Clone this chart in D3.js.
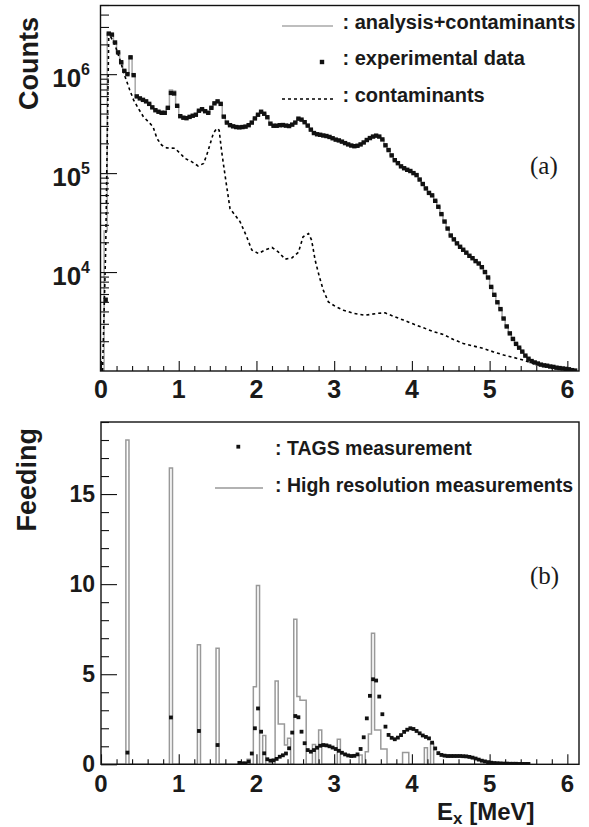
<!DOCTYPE html>
<html><head><meta charset="utf-8">
<script src="https://cdn.jsdelivr.net/npm/d3@7"></script>
<style>body{margin:0;background:#fff}svg{display:block}</style>
</head><body>
<svg id="c" width="589" height="827"></svg>
<script>
// ---------- DATA ----------
const binWidth = 0.04;               // MeV
const expStart = 0.06;               // centre of first experimental bin
const expCounts = [
 5.25e3,2.57e6,2.51e6,2.09e6,1.66e6,1.32e6,1.08e6,1.00e6,1.48e6,9.77e5,
 5.96e5,5.69e5,5.50e5,5.31e5,5.01e5,4.62e5,4.32e5,4.17e5,4.07e5,4.07e5,
 4.57e5,6.46e5,6.38e5,4.79e5,3.76e5,3.63e5,3.59e5,3.70e5,3.80e5,3.89e5,
 4.27e5,4.42e5,4.22e5,4.07e5,4.57e5,5.07e5,5.31e5,5.01e5,3.72e5,3.24e5,
 3.05e5,2.97e5,2.92e5,2.90e5,2.92e5,2.95e5,3.05e5,3.24e5,3.57e5,3.89e5,
 4.17e5,3.98e5,3.67e5,3.16e5,3.01e5,3.01e5,3.05e5,3.06e5,3.02e5,2.99e5,
 3.09e5,3.24e5,3.55e5,3.47e5,3.27e5,3.02e5,2.75e5,2.54e5,2.47e5,2.44e5,
 2.40e5,2.37e5,2.32e5,2.25e5,2.18e5,2.14e5,2.08e5,2.01e5,1.95e5,1.90e5,
 1.87e5,1.89e5,1.95e5,2.04e5,2.16e5,2.26e5,2.34e5,2.39e5,2.34e5,2.19e5,
 1.91e5,1.71e5,1.51e5,1.35e5,1.26e5,1.17e5,1.12e5,1.08e5,1.05e5,1.00e5,
 9.55e4,8.61e4,7.76e4,7.00e4,6.31e4,5.96e4,5.25e4,4.57e4,3.85e4,3.24e4,
 2.75e4,2.34e4,2.14e4,1.95e4,1.80e4,1.68e4,1.57e4,1.46e4,1.38e4,1.29e4,
 1.22e4,1.12e4,1.00e4,8.81e3,7.08e3,5.89e3,4.95e3,4.22e3,3.39e3,2.82e3,
 2.40e3,2.11e3,1.88e3,1.72e3,1.57e3,1.43e3,1.33e3,1.26e3,1.22e3,1.19e3,
 1.16e3,1.14e3,1.13e3,1.11e3,1.10e3,1.08e3,1.07e3,1.06e3,1.05e3,1.04e3,
 1.02e3,1.01e3];
const anaStart = 0.02;               // centre of first analysis bin
const anaCounts = [
 1.00e3,2.60e4,2.57e6,2.51e6,2.09e6,1.66e6,1.32e6,1.08e6,1.00e6,1.50e6,9.80e5,
 5.96e5,5.69e5,5.50e5,5.31e5,5.01e5,4.62e5,4.32e5,4.17e5,4.07e5,4.07e5,
 4.60e5,6.92e5,6.76e5,4.79e5,3.76e5,3.63e5,3.59e5,3.70e5,3.80e5,3.89e5,
 4.27e5,4.42e5,4.22e5,4.07e5,4.57e5,5.07e5,5.31e5,5.01e5,3.72e5,3.24e5,
 3.05e5,2.97e5,2.92e5,2.90e5,2.92e5,2.95e5,3.05e5,3.24e5,3.57e5,3.89e5,
 4.17e5,3.98e5,3.67e5,3.16e5,3.01e5,3.01e5,3.05e5,3.06e5,3.02e5,2.99e5,
 3.09e5,3.24e5,3.55e5,3.47e5,3.27e5,3.02e5,2.75e5,2.54e5,2.47e5,2.44e5,
 2.40e5,2.37e5,2.32e5,2.25e5,2.18e5,2.14e5,2.08e5,2.01e5,1.95e5,1.90e5,
 1.87e5,1.89e5,1.95e5,2.04e5,2.16e5,2.26e5,2.34e5,2.39e5,2.34e5,2.19e5,
 1.91e5,1.71e5,1.51e5,1.35e5,1.26e5,1.17e5,1.12e5,1.08e5,1.05e5,1.00e5,
 9.55e4,8.61e4,7.76e4,7.00e4,6.31e4,5.96e4,5.25e4,4.57e4,3.85e4,3.24e4,
 2.75e4,2.34e4,2.14e4,1.95e4,1.80e4,1.68e4,1.57e4,1.46e4,1.38e4,1.29e4,
 1.22e4,1.12e4,1.00e4,8.81e3,7.08e3,5.89e3,4.95e3,4.22e3,3.39e3,2.82e3,
 2.40e3,2.11e3,1.88e3,1.72e3,1.57e3,1.43e3,1.33e3,1.26e3,1.22e3,1.19e3,
 1.16e3,1.14e3,1.13e3,1.11e3,1.10e3,1.08e3,1.07e3,1.06e3,1.05e3,1.04e3,
 1.02e3,1.01e3];
const contE = [0.02,0.06,0.10,0.18,0.245,0.31,0.37,0.42,0.48,0.545,0.63,0.67,0.72,0.78,0.845,0.95,
 1.02,1.08,1.17,1.25,1.32,1.36,1.40,1.445,1.49,1.52,1.55,1.58,1.62,1.66,1.79,1.875,1.94,
 2.025,2.11,2.20,2.28,2.37,2.455,2.54,2.60,2.67,2.71,2.755,2.81,2.86,2.925,3.01,3.12,3.25,
 3.40,3.55,3.655,3.76,3.89,4.02,4.15,4.28,4.405,4.535,4.66,4.79,4.92,5.05,5.18,5.31,5.435,
 5.565,5.69,5.82,5.95,6.08];
const contCounts = [1.0e3,1.66e4,2.6e6,1.97e6,1.39e6,9.42e5,6.92e5,5.47e5,4.51e5,3.72e5,3.18e5,2.94e5,2.24e5,1.92e5,1.80e5,1.78e5,
 1.58e5,1.41e5,1.30e5,1.18e5,1.25e5,1.52e5,1.92e5,2.52e5,2.83e5,2.72e5,1.71e5,1.16e5,7.08e4,4.37e4,3.22e4,2.27e4,1.67e4,
 1.54e4,1.67e4,1.77e4,1.60e4,1.35e4,1.39e4,1.58e4,2.27e4,2.45e4,2.10e4,1.32e4,8.95e3,6.56e3,5.00e3,4.52e3,4.12e3,3.82e3,
 3.66e3,3.82e3,3.87e3,3.58e3,3.27e3,2.98e3,2.73e3,2.49e3,2.34e3,2.08e3,1.90e3,1.79e3,1.69e3,1.56e3,1.45e3,1.37e3,1.29e3,
 1.19e3,1.12e3,1.08e3,1.04e3,1.00e3];

const tagsE = [0.34,0.90,1.26,1.50,1.78,1.82,1.86,1.90,1.94,1.98,2.02,2.06,2.10,2.14,2.18,2.22,2.26,2.30,2.34,2.38,
 2.42,2.46,2.50,2.54,2.58,2.62,2.66,2.70,2.74,2.78,2.82,2.86,2.90,2.94,2.98,3.02,3.06,3.10,3.14,3.18,3.22,3.26,
 3.30,3.34,3.38,3.42,3.46,3.50,3.54,3.58,3.62,3.66,3.70,3.74,3.78,3.82,3.86,3.90,3.94,3.98,4.02,4.06,4.10,4.14,
 4.18,4.22,4.26,4.30,4.34,4.38,4.42,4.46,4.50,4.54,4.58,4.62,4.66,4.70,4.74,4.78,4.82,4.86,4.90,4.94,4.98,5.02,
 5.06,5.10,5.14,5.18,5.22,5.26,5.30,5.34,5.38,5.42,5.46,5.50];
const tagsFeeding = [0.65,2.6,1.85,1.07,0.08,0.05,0.05,0.15,0.6,2.0,3.1,1.81,0.61,0.28,0.2,0.22,0.3,0.42,0.5,0.6,
 0.89,1.76,2.68,2.61,1.81,1.17,0.79,0.70,0.79,0.92,1.03,1.07,1.05,1.0,0.93,0.85,0.75,0.64,0.55,0.49,0.46,0.47,
 0.55,0.85,1.5,2.55,3.8,4.72,4.65,3.76,2.78,2.09,1.63,1.47,1.39,1.48,1.62,1.8,1.92,2.0,1.96,1.85,1.72,1.6,
 1.52,1.44,1.2,0.88,0.62,0.52,0.48,0.46,0.46,0.46,0.46,0.46,0.45,0.44,0.41,0.37,0.32,0.26,0.2,0.16,0.12,0.09,
 0.07,0.06,0.05,0.04,0.04,0.03,0.03,0.03,0.02,0.02,0.02,0.02];

const hrLow = [0.32,0.88,1.24,1.48,1.80,1.84,1.88,1.96,2.00,2.08,2.24,2.28,2.32,2.36,2.40,2.48,2.52,2.56,2.60,
 2.72,2.80,3.04,3.32,3.40,3.44,3.48,3.52,3.56,3.60,3.64,3.88,3.92,4.16,4.24];
const hrFeeding = [18.0,16.45,6.63,6.44,0.1,0.12,0.28,4.31,9.92,1.6,4.63,2.24,2.24,1.07,1.45,8.05,3.76,3.55,3.55,
 1.1,1.9,1.39,0.52,0.7,1.68,7.28,1.9,1.9,0.85,0.85,0.65,0.65,0.92,1.17];
const hrEnd = 5.52;

const xTicks = [0,1,2,3,4,5,6];
const countTicks = [1e4,1e5,1e6];
const countExp = ["4","5","6"];
const feedTicks = [0,5,10,15];

// ---------- LAYOUT ----------
const svg = d3.select("#c");
const FONT = "'Liberation Sans', Arial, Helvetica, sans-serif";
const TXT = "#1a1a1a";
const x = d3.scaleLinear().domain([0,6.15]).range([101,579]);
const yT = d3.scaleLog().domain([1000,5e6]).range([371,5]);
const yB = d3.scaleLinear().domain([0,19]).range([764.3,422]);
const GRAY = "#a8a8a8";

const defs = svg.append("defs");
defs.append("clipPath").attr("id","clipT").append("rect").attr("x",101).attr("y",5).attr("width",478).attr("height",366);
defs.append("clipPath").attr("id","clipB").append("rect").attr("x",101).attr("y",420).attr("width",478).attr("height",345);

// ---------- TOP PANEL ----------
const gT = svg.append("g");
const anaPts = anaCounts.map((v,i)=>[anaStart + i*binWidth - binWidth/2, v]);
anaPts.push([anaStart + anaCounts.length*binWidth - binWidth/2, anaCounts[anaCounts.length-1]]);
gT.append("path").attr("clip-path","url(#clipT)")
  .attr("d", d3.line().x(d=>x(d[0])).y(d=>yT(d[1])).curve(d3.curveStepAfter)(anaPts))
  .attr("fill","none").attr("stroke",GRAY).attr("stroke-width",1.5);
gT.append("path").attr("clip-path","url(#clipT)")
  .attr("d", d3.line().x((d,i)=>x(contE[i])).y(d=>yT(d))(contCounts))
  .attr("fill","none").attr("stroke","#000").attr("stroke-width",1.6).attr("stroke-dasharray","3,3");
gT.append("g").attr("clip-path","url(#clipT)").selectAll("rect").data(expCounts).join("rect")
  .attr("x",(d,i)=>x(expStart+i*binWidth)-2.2).attr("y",d=>yT(d)-2.2)
  .attr("width",4.4).attr("height",4.4).attr("fill","#111");

gT.append("rect").attr("x",100.5).attr("y",5.5).attr("width",478.5).attr("height",365.5)
  .attr("fill","none").attr("stroke","#111").attr("stroke-width",1.4);

const minorX = d3.range(0,6.15,0.2).filter(v=>Math.abs(v-Math.round(v))>1e-6);
gT.append("g").attr("transform","translate(0,371)")
  .call(d3.axisBottom(x).tickValues(minorX).tickSize(-5).tickFormat(""))
  .call(g=>g.select(".domain").remove());
gT.append("g").attr("transform","translate(0,371)")
  .call(d3.axisBottom(x).tickValues(xTicks).tickSize(-10).tickFormat(""))
  .call(g=>g.select(".domain").remove());
const minorY = [];
[1e3,1e4,1e5,1e6].forEach(dec=>{ for(let m=2;m<=9;m++){ const v=dec*m; if(v<=5e6) minorY.push(v);} });
gT.append("g").attr("transform","translate(101,0)")
  .call(d3.axisLeft(yT).tickValues(minorY).tickSize(-8).tickFormat(""))
  .call(g=>g.select(".domain").remove());
gT.append("g").attr("transform","translate(101,0)")
  .call(d3.axisLeft(yT).tickValues(countTicks).tickSize(-16).tickFormat(""))
  .call(g=>g.select(".domain").remove());

gT.selectAll("text.xl").data(xTicks).join("text").attr("class","xl")
  .attr("x",d=>x(d)).attr("y",398).attr("text-anchor","middle")
  .attr("font-family",FONT).attr("font-weight","bold").attr("font-size",25).attr("fill",TXT)
  .text(d=>d);
countTicks.forEach((v,i)=>{
  const t = gT.append("text").attr("x",90).attr("y",yT(v)+13).attr("text-anchor","end")
    .attr("font-family",FONT).attr("font-weight","bold").attr("fill",TXT);
  t.append("tspan").attr("font-size",26).text("10");
  t.append("tspan").attr("font-size",16).attr("dy",-12).text(countExp[i]);
});
gT.append("text").attr("transform","translate(38,17) rotate(-90)").attr("text-anchor","end")
  .attr("font-family",FONT).attr("font-weight","bold").attr("font-size",27).attr("fill",TXT).text("Counts");

gT.append("line").attr("x1",282).attr("x2",333).attr("y1",26).attr("y2",26).attr("stroke",GRAY).attr("stroke-width",1.5);
gT.append("rect").attr("x",319.8).attr("y",59.8).attr("width",4.4).attr("height",4.4).attr("fill","#111");
gT.append("line").attr("x1",282).attr("x2",333).attr("y1",99).attr("y2",99).attr("stroke","#000").attr("stroke-width",1.6).attr("stroke-dasharray","3,3");
[[": analysis+contaminants",28.5],[": experimental data",65],[": contaminants",102]].forEach(([s,yy])=>{
  gT.append("text").attr("x",342.5).attr("y",yy).attr("font-family",FONT).attr("font-weight","bold")
    .attr("font-size",20).attr("fill",TXT).text(s);
});
gT.append("text").attr("x",530).attr("y",174).attr("font-family","'Liberation Serif', 'Times New Roman', serif")
  .attr("font-size",25).attr("fill",TXT).text("(a)");

// ---------- BOTTOM PANEL ----------
const gB = svg.append("g");
const nHr = Math.round(hrEnd/binWidth);
const hrGrid = new Array(nHr).fill(0);
hrLow.forEach((lo,i)=>{ hrGrid[Math.round(lo/binWidth)] = hrFeeding[i]; });
const hrPts = hrGrid.map((v,i)=>[i*binWidth, v]);
hrPts.push([nHr*binWidth, 0]);
gB.append("path").attr("clip-path","url(#clipB)")
  .attr("d", d3.line().x(d=>x(d[0])).y(d=>yB(d[1])).curve(d3.curveStepAfter)(hrPts))
  .attr("fill","none").attr("stroke","#999").attr("stroke-width",1.5);
gB.append("g").attr("clip-path","url(#clipB)").selectAll("rect").data(tagsFeeding).join("rect")
  .attr("x",(d,i)=>x(tagsE[i])-1.9).attr("y",d=>yB(d)-1.9)
  .attr("width",3.8).attr("height",3.8).attr("fill","#111");

gB.append("rect").attr("x",101).attr("y",422).attr("width",478).attr("height",342.3)
  .attr("fill","none").attr("stroke","#111").attr("stroke-width",1.4);

gB.append("g").attr("transform","translate(0,764.3)")
  .call(d3.axisBottom(x).tickValues(minorX).tickSize(-5).tickFormat(""))
  .call(g=>g.select(".domain").remove());
gB.append("g").attr("transform","translate(0,764.3)")
  .call(d3.axisBottom(x).tickValues(xTicks).tickSize(-10).tickFormat(""))
  .call(g=>g.select(".domain").remove());
const minorF = d3.range(0,19.01,1).filter(v=>v%5!==0);
gB.append("g").attr("transform","translate(101,0)")
  .call(d3.axisLeft(yB).tickValues(minorF).tickSize(-8).tickFormat(""))
  .call(g=>g.select(".domain").remove());
gB.append("g").attr("transform","translate(101,0)")
  .call(d3.axisLeft(yB).tickValues(feedTicks).tickSize(-16).tickFormat(""))
  .call(g=>g.select(".domain").remove());
svg.selectAll(".tick line").attr("stroke","#111").attr("stroke-width",1.1);

gB.selectAll("text.xl").data(xTicks).join("text").attr("class","xl")
  .attr("x",d=>x(d)).attr("y",792).attr("text-anchor","middle")
  .attr("font-family",FONT).attr("font-weight","bold").attr("font-size",24).attr("fill",TXT)
  .text(d=>d);
gB.selectAll("text.yl").data(feedTicks).join("text").attr("class","yl")
  .attr("x",95).attr("y",d=>yB(d)+8).attr("text-anchor","end")
  .attr("font-family",FONT).attr("font-weight","bold").attr("font-size",23).attr("fill",TXT)
  .text(d=>d);
gB.append("text").attr("transform","translate(36,428) rotate(-90)").attr("text-anchor","end")
  .attr("font-family",FONT).attr("font-weight","bold").attr("font-size",27).attr("fill",TXT).text("Feeding");
const xt = gB.append("text").attr("x",437).attr("y",820).attr("font-family",FONT).attr("font-weight","bold").attr("fill",TXT);
xt.append("tspan").attr("font-size",24).text("E");
xt.append("tspan").attr("font-size",17).attr("dy",4).text("x");
xt.append("tspan").attr("font-size",24).attr("dy",-4).text(" [MeV]");

gB.append("rect").attr("x",236.4).attr("y",444.8).attr("width",3.8).attr("height",3.8).attr("fill","#111");
gB.append("line").attr("x1",215).attr("x2",263).attr("y1",488).attr("y2",488).attr("stroke","#999").attr("stroke-width",1.5);
[[": TAGS measurement",455],[": High resolution measurements",491.5]].forEach(([s,yy])=>{
  gB.append("text").attr("x",275).attr("y",yy).attr("font-family",FONT).attr("font-weight","bold")
    .attr("font-size",19.5).attr("fill",TXT).text(s);
});
gB.append("text").attr("x",530).attr("y",584).attr("font-family","'Liberation Serif', 'Times New Roman', serif")
  .attr("font-size",25).attr("fill",TXT).text("(b)");
</script>
</body></html>
